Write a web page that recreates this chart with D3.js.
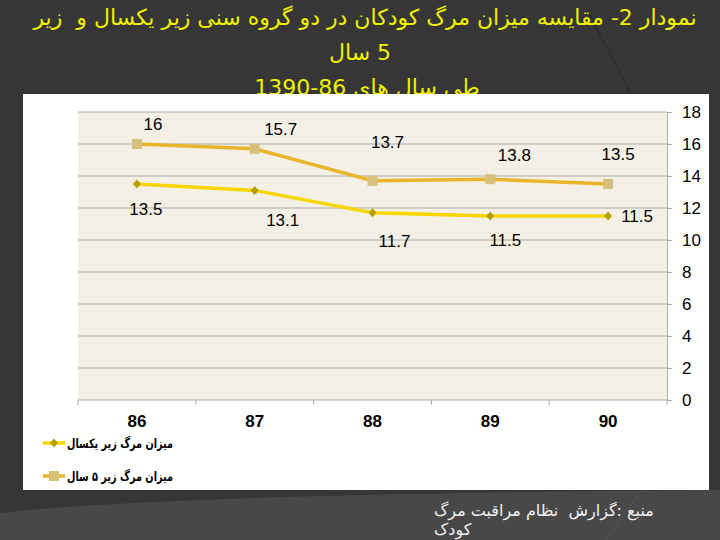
<!DOCTYPE html>
<html>
<head>
<meta charset="utf-8">
<script src="https://cdn.jsdelivr.net/npm/d3@7"></script>
<style>
  body { margin: 0; background: #363636; overflow: hidden; }
  svg { display: block; }
  text { white-space: pre; }
</style>
</head>
<body>
<div id="display"></div>
<script>
// chart data
var years = ["86", "87", "88", "89", "90"];
var under1Deaths = [13.5, 13.1, 11.7, 11.5, 11.5];
var under5Deaths = [16, 15.7, 13.7, 13.8, 13.5];
var yTicks = [0, 2, 4, 6, 8, 10, 12, 14, 16, 18];
var seriesNames = ["میزان مرگ زیر یکسال", "میزان مرگ زیر ۵ سال"];
var titleLines = ["نمودار 2- مقایسه میزان مرگ کودکان در دو گروه سنی زیر یکسال و  زیر", "5 سال", "طی سال های 86-1390"];
var sourceLines = ["منبع :گزارش  نظام مراقبت مرگ", "کودک"];

// the labels in the original were dragged around by hand, so nudge them (px)
var under5LabelShift = [[16, -20], [26, -20], [15, -39], [24, -24], [10, -30]];
var under1LabelShift = [[9, 25], [28, 29], [22, 28], [15, 24], [29, 0]];

var width = 720, height = 540;
var plot = { left: 78, top: 112, right: 667, bottom: 400 };
var persianFont = "'DejaVu Sans', sans-serif";
var latinFont = "'Liberation Sans', Arial, sans-serif";

var svg = d3.select("#display").append("svg")
    .attr("width", width)
    .attr("height", height);

// right-to-left text; anchors get confusing with rtl so measure and centre it.
// align "left" puts the left edge at x0, "middle" centres on x0.
// fitWidth squeezes the run to a given width (the slide used a narrow font)
var rtlText = function (str, x0, y0, align, size, weight, color, fitWidth) {
    var t = svg.append("text")
        .attr("y", y0)
        .attr("direction", "rtl")
        .attr("text-anchor", "middle")
        .attr("font-family", persianFont)
        .attr("font-size", size)
        .attr("font-weight", weight)
        .attr("fill", color)
        .text(str);
    var w = t.node().getComputedTextLength();
    if (fitWidth) {
        t.attr("textLength", fitWidth).attr("lengthAdjust", "spacingAndGlyphs");
        w = fitWidth;
    }
    t.attr("x", align == "left" ? x0 + w / 2 : x0);
    return t;
};

// slide background plus the lighter swoosh at the bottom
svg.append("rect").attr("width", width).attr("height", height).attr("fill", "#363636");
svg.append("path")
    .attr("d", "M0,513 Q160,494 720,490 L720,540 L0,540 Z")
    .attr("fill", "#484848");
svg.append("line")
    .attr("x1", 588).attr("y1", 12).attr("x2", 632).attr("y2", 96)
    .attr("stroke", "#2c2c2c").attr("stroke-width", 1.5);
svg.append("line")
    .attr("x1", 642).attr("y1", 490).attr("x2", 606).attr("y2", 540)
    .attr("stroke", "#555555").attr("stroke-width", 1);

// title, three lines (the last one runs under the chart box)
rtlText(titleLines[0], 365, 25, "middle", 22, "normal", "#f0f000");
rtlText(titleLines[1], 360, 60, "middle", 22, "normal", "#f0f000");
rtlText(titleLines[2], 367, 95, "middle", 22, "normal", "#f0f000");

// white chart box and the beige plot area
svg.append("rect")
    .attr("x", 23).attr("y", 94).attr("width", 686).attr("height", 396)
    .attr("fill", "#ffffff");
svg.append("rect")
    .attr("x", plot.left).attr("y", plot.top)
    .attr("width", plot.right - plot.left).attr("height", plot.bottom - plot.top)
    .attr("fill", "#f4f0e6");

var x = d3.scaleBand().domain(years).range([plot.left, plot.right]);
var y = d3.scaleLinear().domain([0, 18]).range([plot.bottom, plot.top]);
var cx = function (d) { return x(d) + x.bandwidth() / 2; };

// horizontal grid
svg.append("g").selectAll("line")
    .data(yTicks)
    .enter().append("line")
    .attr("x1", plot.left).attr("x2", plot.right)
    .attr("y1", function (d) { return y(d); })
    .attr("y2", function (d) { return y(d); })
    .attr("stroke", "#aaaaaa").attr("stroke-width", 1);

// value axis on the right
var yAxis = svg.append("g")
    .attr("transform", "translate(" + plot.right + ",0)")
    .call(d3.axisRight(y).tickValues(yTicks).tickSizeInner(5).tickSizeOuter(0).tickPadding(10));
yAxis.selectAll("path, line").attr("stroke", "#aaaaaa");
yAxis.selectAll("text")
    .attr("font-family", latinFont)
    .attr("font-size", 17).attr("fill", "#000000");

// category axis, ticks sit between the categories
var xAxis = svg.append("g")
    .attr("transform", "translate(0," + plot.bottom + ")")
    .call(d3.axisBottom(x).tickSize(0).tickPadding(15));
xAxis.select(".domain").remove();
xAxis.selectAll("text")
    .attr("font-family", latinFont)
    .attr("font-size", 17).attr("font-weight", "bold").attr("fill", "#000000");
var edges = years.map(function (d) { return x(d); }).concat([x(years[years.length - 1]) + x.bandwidth()]);
svg.append("g").selectAll("line")
    .data(edges)
    .enter().append("line")
    .attr("x1", function (d) { return d; }).attr("x2", function (d) { return d; })
    .attr("y1", plot.bottom).attr("y2", plot.bottom + 5)
    .attr("stroke", "#aaaaaa");

var series = [
    { name: seriesNames[1], values: under5Deaths, shift: under5LabelShift, line: "#e8b62c", mark: "#d9c07a", shape: "square" },
    { name: seriesNames[0], values: under1Deaths, shift: under1LabelShift, line: "#f7d500", mark: "#b89e00", shape: "diamond" }
];

var lineGen = d3.line()
    .x(function (d, i) { return cx(years[i]); })
    .y(function (d) { return y(d); });

var drawMarker = function (g, s, px, py) {
    if (s.shape == "square") {
        g.append("rect")
            .attr("x", px - 5).attr("y", py - 5).attr("width", 10).attr("height", 10)
            .attr("fill", s.mark);
    } else {
        g.append("path")
            .attr("d", "M" + px + "," + (py - 4.5) + " L" + (px + 4) + "," + py + " L" + px + "," + (py + 4.5) + " L" + (px - 4) + "," + py + " Z")
            .attr("fill", s.mark);
    }
};

series.forEach(function (s) {
    var g = svg.append("g");
    g.append("path")
        .datum(s.values)
        .attr("d", lineGen)
        .attr("fill", "none")
        .attr("stroke", s.line)
        .attr("stroke-width", 3.5);
    s.values.forEach(function (v, i) {
        drawMarker(g, s, cx(years[i]), y(v));
    });
    g.selectAll("text")
        .data(s.values)
        .enter().append("text")
        .attr("x", function (d, i) { return cx(years[i]) + s.shift[i][0]; })
        .attr("y", function (d, i) { return y(d) + s.shift[i][1]; })
        .attr("dy", "0.36em")
        .attr("text-anchor", "middle")
        .attr("font-family", latinFont)
        .attr("font-size", 17).attr("fill", "#000000")
        .text(function (d) { return d; });
});

// legend, bottom left of the box
var legendRows = [series[1], series[0]];
legendRows.forEach(function (s, i) {
    var ly = 443 + i * 33;
    var g = svg.append("g");
    g.append("line")
        .attr("x1", 43).attr("x2", 65).attr("y1", ly).attr("y2", ly)
        .attr("stroke", s.line).attr("stroke-width", 3.5);
    drawMarker(g, s, 54, ly);
    rtlText(s.name, 67, ly + 5, "left", 13, "bold", "#000000", 106);
});

// source note
sourceLines.forEach(function (t, i) {
    rtlText(t, 434, 516 + i * 19, "left", 16, "normal", "#f2f2f2");
});
</script>
</body>
</html>
